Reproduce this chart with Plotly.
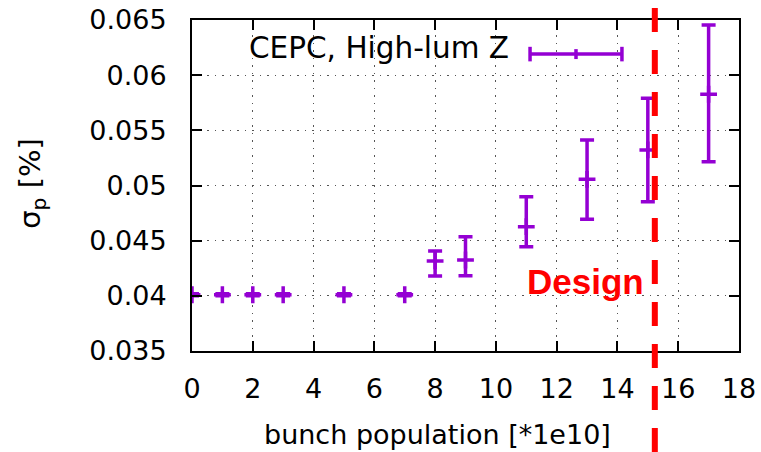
import plotly.graph_objects as go

# ---- data ----
bunch_population = [0, 1, 2, 3, 5, 7, 8, 9, 11, 13, 15, 17]
sigma_p = [0.0401, 0.0401, 0.0401, 0.0401, 0.0401, 0.0401, 0.04316, 0.04325, 0.04627, 0.05056, 0.05322, 0.05827]
err_plus = [0.0001, 0.0001, 0.0001, 0.0001, 0.0001, 0.0001, 0.00090, 0.00211, 0.00272, 0.00356, 0.00468, 0.00628]
err_minus = [0.0001, 0.0001, 0.0001, 0.0001, 0.0001, 0.0001, 0.00136, 0.00142, 0.00182, 0.00362, 0.00469, 0.00611]
design_x = 15.23
series_name = "CEPC, High-lum Z"
x_ticks = [0, 2, 4, 6, 8, 10, 12, 14, 16, 18]
y_ticks = [0.035, 0.04, 0.045, 0.05, 0.055, 0.06, 0.065]
y_tick_text = ["0.035", "0.04", "0.045", "0.05", "0.055", "0.06", "0.065"]

PURPLE = "#9400D3"
FONT = "DejaVu Sans"

fig = go.Figure()
fig.add_trace(go.Scatter(
    x=bunch_population, y=sigma_p, mode="markers", name=series_name,
    marker=dict(symbol="cross-thin", size=12, color=PURPLE,
                line=dict(color=PURPLE, width=3.5)),
    error_y=dict(type="data", symmetric=False, array=err_plus, arrayminus=err_minus,
                 color=PURPLE, thickness=3.5, width=7),
    showlegend=False,
))

# design line
fig.add_shape(type="line", xref="x", yref="paper", x0=design_x, x1=design_x,
              y0=1.036, y1=-0.31, line=dict(color="#FF0000", width=6, dash="24px,18px"),
              layer="above")

# legend sample (error bar glyph)
lx0, lx1, ly = 0.618, 0.786, 0.897
cap = 0.022
fig.add_shape(type="line", xref="paper", yref="paper", x0=lx0, x1=lx1, y0=ly, y1=ly,
              line=dict(color=PURPLE, width=3.5))
fig.add_shape(type="line", xref="paper", yref="paper", x0=lx0, x1=lx0, y0=ly - cap, y1=ly + cap,
              line=dict(color=PURPLE, width=3.5))
fig.add_shape(type="line", xref="paper", yref="paper", x0=lx1, x1=lx1, y0=ly - cap, y1=ly + cap,
              line=dict(color=PURPLE, width=3.5))
fig.add_shape(type="line", xref="paper", yref="paper", x0=(lx0 + lx1) / 2, x1=(lx0 + lx1) / 2,
              y0=ly - 0.015, y1=ly + 0.015, line=dict(color=PURPLE, width=3.5))

annotations = [
    dict(text=series_name, xref="paper", yref="paper", x=0.583, y=0.915,
         xanchor="right", yanchor="middle", showarrow=False,
         font=dict(family=FONT, size=29.5, color="black")),
    dict(text="<b>Design</b>", xref="x", yref="y", x=12.96, y=0.04134,
         xanchor="center", yanchor="middle", showarrow=False,
         font=dict(family="Liberation Sans", size=35, color="#FF0000")),
    dict(text="bunch population [*1e10]", xref="paper", yref="paper", x=0.448, y=-0.252,
         xanchor="center", yanchor="middle", showarrow=False,
         font=dict(family=FONT, size=27, color="black")),
    dict(text="σ<sub>p</sub> [%]", xref="paper", yref="paper", x=-0.2925, y=0.505,
         xanchor="center", yanchor="middle", showarrow=False, textangle=-90,
         font=dict(family=FONT, size=29, color="black")),
]

axis_common = dict(showline=True, linecolor="black", linewidth=2, mirror="allticks",
                   ticks="inside", ticklen=10, tickwidth=2, tickcolor="black",
                   showgrid=True, gridcolor="#555555", gridwidth=1, griddash="1.5px,6px",
                   zeroline=False, automargin=False,
                   tickfont=dict(family=FONT, size=27, color="black"))

fig.update_layout(
    width=761, height=452,
    margin=dict(l=192, r=22, t=20, b=101),
    paper_bgcolor="white", plot_bgcolor="white",
    xaxis=dict(range=[0, 18], tickmode="array", tickvals=x_ticks, ticklabelstandoff=13,
               **axis_common),
    yaxis=dict(range=[0.035, 0.065], tickmode="array", tickvals=y_ticks, ticktext=y_tick_text,
               ticklabelstandoff=18, **axis_common),
    annotations=annotations,
    showlegend=False,
)
fig.write_html("out.html")
